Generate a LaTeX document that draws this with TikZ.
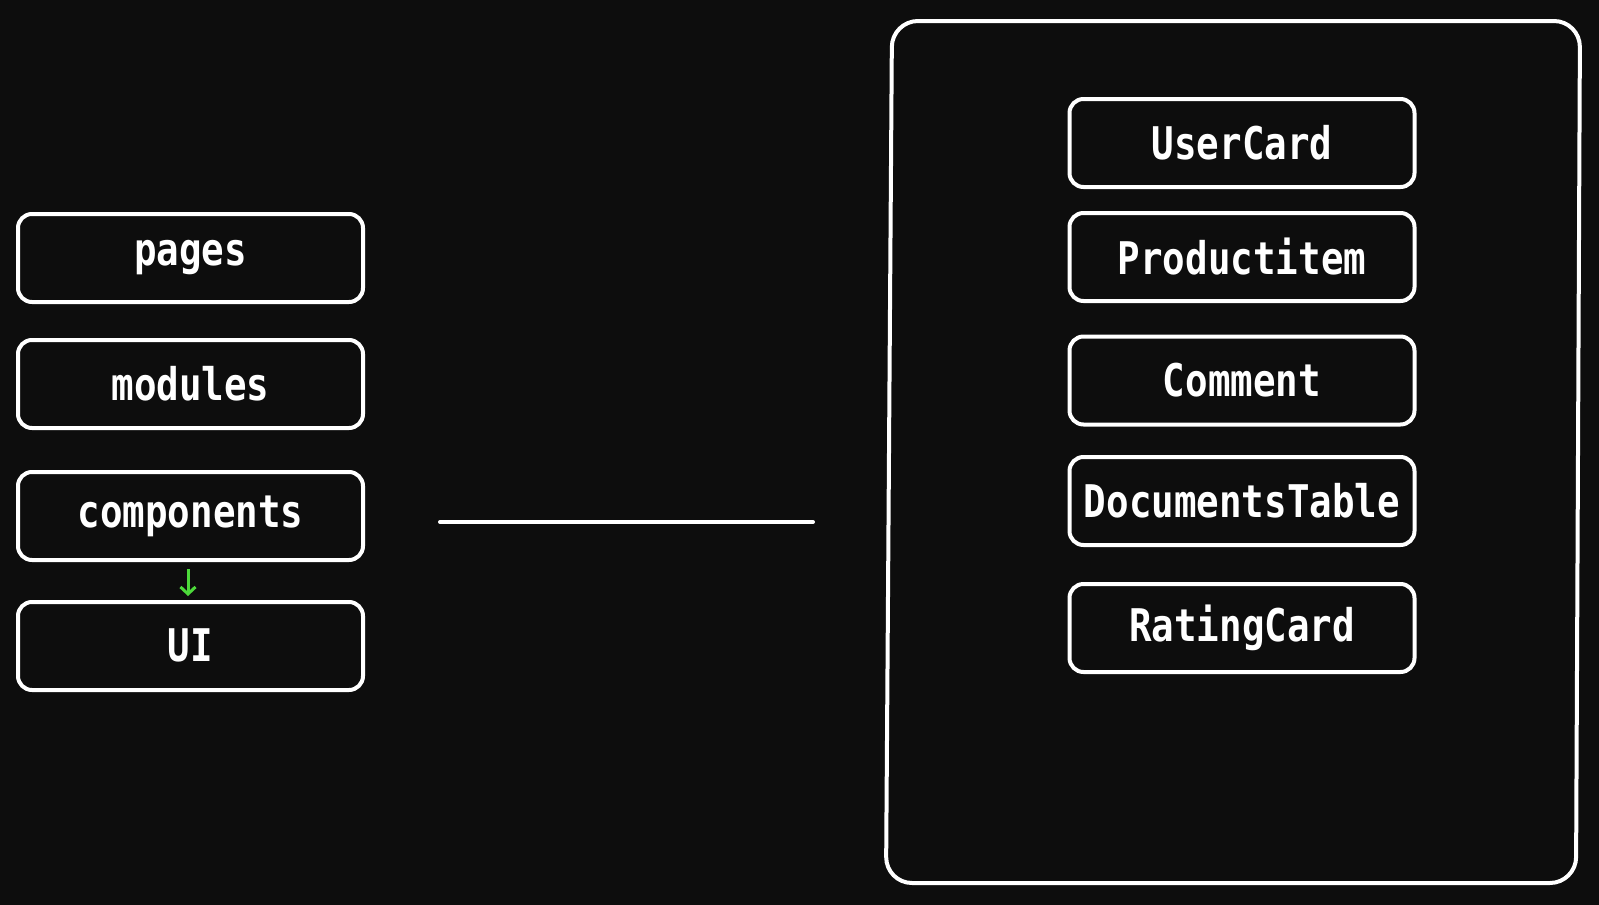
\documentclass[tikz,border=0pt]{standalone}
\usepackage{fontspec}
\setmonofont{DejaVu Sans Mono}
\usetikzlibrary{arrows.meta}
\definecolor{bg}{HTML}{0D0D0D}
\definecolor{arrowgreen}{HTML}{4CD93A}
\tikzset{
  box/.style={draw=white, line width=4pt, rounded corners=14pt, fill=bg,
    minimum width=345pt, minimum height=88pt, inner sep=0pt, text=white,
    font=\ttfamily\bfseries\fontsize{37.5}{37.5}\selectfont},
  frame/.style={draw=white, line width=4pt, rounded corners=26pt},
  link/.style={draw=white, line width=4pt, line cap=round},
  flow/.style={draw=arrowgreen, line width=3pt, -{Straight Barb[length=7pt,width=15pt]}}
}
\newcommand{\tall}[1]{\raisebox{2pt}{\scalebox{1}[1.2]{#1}}}
\begin{document}
\begin{tikzpicture}[x=1pt,y=-1pt]
\fill[bg] (0,0) rectangle (1599,905);
\useasboundingbox (0,0) rectangle (1599,905);
% container
\draw[frame] (892,21) -- (1580,21) -- (1576,883) -- (886,883) -- cycle;
% left column
\node[box] (pages) at (190.5,258) {\tall{pages}};
\node[box] (modules) at (190.5,384) {\tall{modules}};
\node[box] (components) at (190.5,516) {\tall{components}};
\node[box] (UI) at (190.5,646) {\tall{UI}};
\draw[flow] ([xshift=-2.5pt,yshift=-7pt]components.south) -- ([xshift=-2.5pt,yshift=4pt]UI.north);
% right column
\node[box] (usercard) at (1242,143) {\tall{UserCard}};
\node[box] (productitem) at (1242,257) {\tall{Productitem}};
\node[box] (comment) at (1242,380.5) {\tall{Comment}};
\node[box] (doctable) at (1242,501) {\tall{DocumentsTable}};
\node[box] (rating) at (1242,628) {\tall{RatingCard}};
% line
\coordinate (la) at (440,522);
\coordinate (lb) at (813,522);
\draw[link] (la) -- (lb);
\end{tikzpicture}
\end{document}
